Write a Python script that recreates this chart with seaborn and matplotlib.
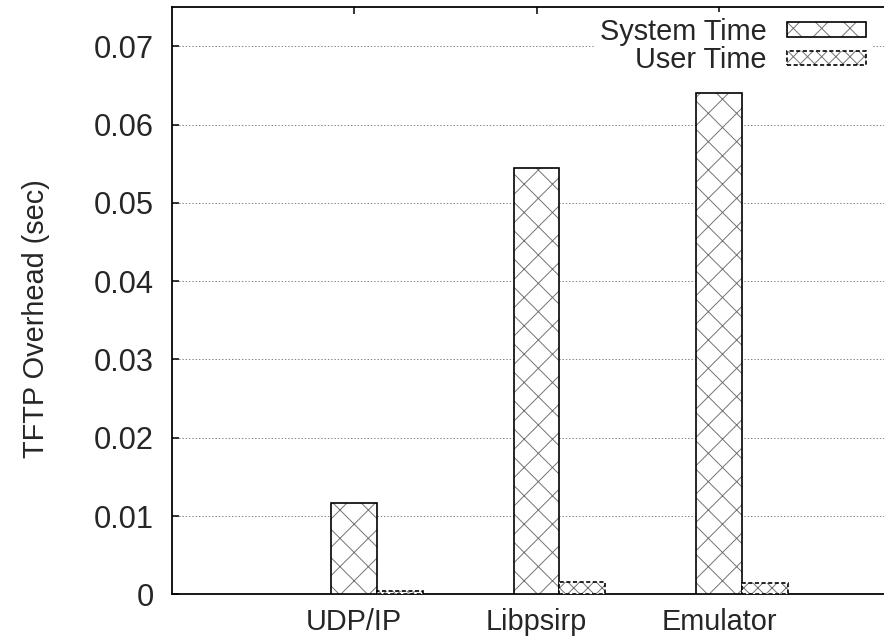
import numpy as np
import pandas as pd
import matplotlib
matplotlib.use("Agg")
import matplotlib.pyplot as plt
import seaborn as sns

categories = ["UDP/IP", "Libpsirp", "Emulator"]
series = ["System Time", "User Time"]
system_time = [0.0117, 0.0545, 0.0640]
user_time = [0.0004, 0.0016, 0.0015]
y_ticks = [0.0, 0.01, 0.02, 0.03, 0.04, 0.05, 0.06, 0.07]
y_tick_labels = ["0", "0.01", "0.02", "0.03", "0.04", "0.05", "0.06", "0.07"]
y_label = "TFTP Overhead (sec)"

df = pd.DataFrame({
    "category": categories * 2,
    "series": [series[0]] * 3 + [series[1]] * 3,
    "value": system_time + user_time,
})

sns.set_theme(style="white")
plt.rcParams["font.family"] = ["Liberation Sans", "DejaVu Sans"]
plt.rcParams["hatch.linewidth"] = 0.8

DPI = 85
FS = 24.5
YFS = 26
fig = plt.figure(figsize=(884 / DPI, 641 / DPI), dpi=DPI)
fig.patch.set_edgecolor("none")
fig.patch.set_linewidth(0)
ax = fig.add_axes([0.1942, 0.0729, 0.86, 0.9157])

sns.barplot(data=df, x="category", y="value", hue="series", order=categories,
            hue_order=series, palette=["white", "white"], saturation=1,
            width=0.5, edgecolor="black", linewidth=1.4, ax=ax, legend=False,
            errorbar=None, zorder=3)

hatches = ["x", "xx"]
styles = ["-", (0, (2.5, 1.5))]
for cont, h, ls in zip(ax.containers, hatches, styles):
    for p in cont:
        p.set_hatch(h)
        p.set_linestyle(ls)
        if hasattr(p, "set_hatchcolor"):
            p.set_hatchcolor("#707070")
        else:
            p._hatch_color = (0.44, 0.44, 0.44, 1.0)

# 183 px per category unit; axes is 0.86*884 px wide
ax.set_xlim(-1.125, -1.125 + 0.86 * 884 / 182.5)
ax.set_ylim(0, 0.075)
ax.set_xticks(np.arange(len(categories)) - 0.125)
ax.set_xticklabels(categories, fontsize=FS)
ax.set_yticks(y_ticks)
ax.set_yticklabels(y_tick_labels, fontsize=YFS)
ax.set_xlabel("")
ax.set_ylabel(y_label, fontsize=FS)
ax.yaxis.set_label_coords(-0.167 * 0.826 / 0.86, 0.47)

ax.tick_params(axis="both", direction="in", length=6, width=1.3, color="black",
               top=True, right=False, bottom=True, left=True)
ax.tick_params(axis="x", pad=12)
ax.tick_params(axis="y", pad=15)

for s in ax.spines.values():
    s.set_color("black")
    s.set_linewidth(1.5)
ax.spines["right"].set_visible(False)

ax.yaxis.grid(True, linestyle=(0, (1.5, 2)), color="#808080", linewidth=0.8)
ax.xaxis.grid(False)
ax.set_axisbelow(True)

leg = ax.legend(handles=[ax.containers[0], ax.containers[1]], labels=series,
                loc="upper right", bbox_to_anchor=(872 / 884, 1 - 12 / 641),
                bbox_transform=fig.transFigure, markerfirst=False, frameon=True,
                fancybox=False, edgecolor="none", framealpha=1, facecolor="white",
                handlelength=2.75, handleheight=0.4, handletextpad=0.7,
                labelspacing=0.02, borderpad=0.2, borderaxespad=0, fontsize=FS)
leg.set_zorder(5)

fig.savefig("out.png", dpi=DPI)
